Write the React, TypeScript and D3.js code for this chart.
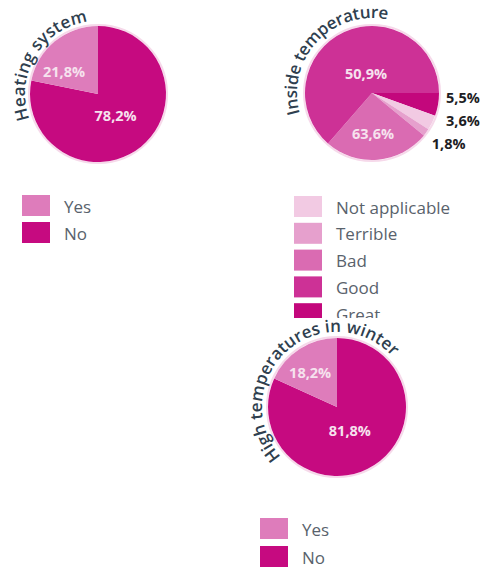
import React from "react";
import * as d3 from "d3";

// ---------- data ----------
const heatingCategories = ["No", "Yes"];
const heatingValues = [78.2, 21.8];
const heatingLabels = ["78,2%", "21,8%"];

const insideCategories = ["Great", "Not applicable", "Terrible", "Bad", "Good"];
const insideValues = [5.5, 3.6, 1.8, 25.5, 63.6];
const insideLabels = ["5,5%", "3,6%", "1,8%", "63,6%", "50,9%"];

const winterCategories = ["No", "Yes"];
const winterValues = [81.8, 18.2];
const winterLabels = ["81,8%", "18,2%"];

const yesNoLegend = ["Yes", "No"];
const insideLegend = ["Not applicable", "Terrible", "Bad", "Good", "Great"];

// ---------- styles ----------
const COLORS: Record<string, string> = {
  Yes: "#de7cbb",
  No: "#c60a80",
  Great: "#c3077c",
  "Not applicable": "#f2cae3",
  Terrible: "#e6a0cd",
  Bad: "#da6bb2",
  Good: "#cd3196",
};
const FONT = "'Open Sans', Lato, 'Noto Sans', sans-serif";
const TITLE_COLOR = "#2f3f4f";
const LEGEND_TEXT = "#59626c";

type LabelPos = { ang: number; r: number; outside?: boolean };

interface PieSpec {
  id: string;
  title: string;
  cx: number;
  cy: number;
  r: number;
  startDeg: number;
  cats: string[];
  values: number[];
  labels: string[];
  labelPos: LabelPos[];
  titleMid: number;
  titleSpan: number;
  titleR: number;
  titleLen: number;
}

const pies: PieSpec[] = [
  {
    id: "heat",
    title: "Heating system",
    cx: 98,
    cy: 94,
    r: 68,
    startDeg: 0,
    cats: heatingCategories,
    values: heatingValues,
    labels: heatingLabels,
    labelPos: [
      { ang: 141, r: 28 },
      { ang: 304, r: 41 },
    ],
    titleMid: 301,
    titleSpan: 160,
    titleR: 73,
    titleLen: 130,
  },
  {
    id: "inside",
    title: "Inside temperature",
    cx: 372,
    cy: 93,
    r: 67,
    startDeg: 90,
    cats: insideCategories,
    values: insideValues,
    labels: insideLabels,
    labelPos: [
      { ang: 93, r: 91, outside: true },
      { ang: 107, r: 95, outside: true },
      { ang: 123.5, r: 92, outside: true },
      { ang: 178.6, r: 41 },
      { ang: 342.5, r: 20 },
    ],
    titleMid: 313,
    titleSpan: 170,
    titleR: 75,
    titleLen: 154,
  },
  {
    id: "winter",
    title: "High temperatures in winter",
    cx: 337,
    cy: 407,
    r: 69,
    startDeg: 0,
    cats: winterCategories,
    values: winterValues,
    labels: winterLabels,
    labelPos: [
      { ang: 151.6, r: 27 },
      { ang: 322.4, r: 44 },
    ],
    titleMid: 318,
    titleSpan: 200,
    titleR: 75,
    titleLen: 234,
  },
];

const rad = (d: number) => (d * Math.PI) / 180;
const polar = (cx: number, cy: number, r: number, deg: number) => [
  cx + r * Math.sin(rad(deg)),
  cy - r * Math.cos(rad(deg)),
];

function titlePath(p: PieSpec) {
  const a0 = p.titleMid - p.titleSpan / 2;
  const a1 = p.titleMid + p.titleSpan / 2;
  const [x0, y0] = polar(p.cx, p.cy, p.titleR, a0);
  const [x1, y1] = polar(p.cx, p.cy, p.titleR, a1);
  const large = a1 - a0 > 180 ? 1 : 0;
  return `M${x0},${y0} A${p.titleR},${p.titleR} 0 ${large} 1 ${x1},${y1}`;
}

function Pie({ p }: { p: PieSpec }) {
  const pieGen = d3
    .pie<number>()
    .sort(null)
    .value((d) => d)
    .startAngle(rad(p.startDeg))
    .endAngle(rad(p.startDeg) + 2 * Math.PI);
  const arcs = pieGen(p.values);
  const arcGen = d3.arc<d3.PieArcDatum<number>>().innerRadius(0).outerRadius(p.r);
  return (
    <g>
      <circle cx={p.cx} cy={p.cy} r={p.r + 1} fill="none" stroke="#f6d9ea" strokeWidth={2} />
      <g transform={`translate(${p.cx},${p.cy})`}>
        {arcs.map((a, i) => (
          <path key={i} d={arcGen(a) || ""} fill={COLORS[p.cats[i]]} />
        ))}
      </g>
      {p.labels.map((lab, i) => {
        const lp = p.labelPos[i];
        const [x, y] = polar(p.cx, p.cy, lp.r, lp.ang);
        return (
          <text
            key={i}
            x={x}
            y={y}
            textAnchor="middle"
            dominantBaseline="central"
            fontFamily={FONT}
            fontWeight={700}
            fontSize={14.5}
            fill={lp.outside ? "#1d1d24" : "#f6e2ee"}
          >
            {lab}
          </text>
        );
      })}
      <path id={`tp-${p.id}`} d={titlePath(p)} fill="none" />
      <text fontFamily={FONT} fontWeight={600} fontSize={17} fill={TITLE_COLOR}>
        <textPath
          href={`#tp-${p.id}`}
          startOffset="50%"
          textAnchor="middle"
          textLength={p.titleLen}
          lengthAdjust="spacing"
        >
          {p.title}
        </textPath>
      </text>
    </g>
  );
}

function Legend({
  items,
  x,
  y,
  pitch,
}: {
  items: string[];
  x: number;
  y: number;
  pitch: number;
}) {
  const band = d3
    .scaleBand<string>()
    .domain(items)
    .range([y, y + pitch * items.length]);
  return (
    <g>
      {items.map((it) => (
        <g key={it} transform={`translate(${x},${band(it)})`}>
          <rect width={28} height={21} fill={COLORS[it]} />
          <text
            x={42}
            y={11}
            dominantBaseline="central"
            fontFamily={FONT}
            fontSize={17}
            fill={LEGEND_TEXT}
          >
            {it}
          </text>
        </g>
      ))}
    </g>
  );
}

export default function App() {
  return (
    <svg
      width={483}
      height={568}
      style={{ position: "absolute", left: 0, top: 0, background: "#fff" }}
    >
      <rect width={483} height={568} fill="#fff" />
      <Pie p={pies[0]} />
      <Legend items={yesNoLegend} x={22} y={195} pitch={27} />
      <Pie p={pies[1]} />
      <Legend items={insideLegend} x={294} y={196} pitch={26.8} />
      <rect x={240} y={318} width={243} height={250} fill="#fff" />
      <Pie p={pies[2]} />
      <Legend items={yesNoLegend} x={260} y={518} pitch={28} />
    </svg>
  );
}
